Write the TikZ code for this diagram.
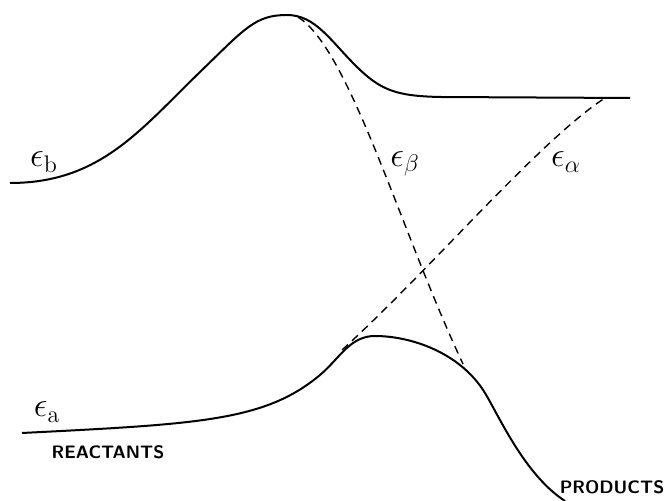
\documentclass[tikz,border=0pt]{standalone}
\usepackage{amsmath,amssymb}
\usepackage{xcolor}
\usetikzlibrary{positioning,calc}
\tikzset{
  level/.style={line width=1pt,line join=round},
  corr/.style={dash pattern=on 4pt off 2.8pt,line width=0.7pt},
  orblabel/.style={font=\LARGE,inner sep=1pt},
  side/.style={font=\small\sffamily\bfseries,inner sep=1pt}
}
\begin{document}
\begin{tikzpicture}[x=0.5pt,y=-0.5pt]
      \useasboundingbox (0,0) rectangle (664,501);
      \coordinate (bstart) at (10,183);
      \coordinate (btop) at (287,15);
      \coordinate (bend) at (630,98);
      \coordinate (astart) at (22,433);
      \coordinate (atop) at (375,336);
      \coordinate (aend) at (565,501);
      \draw[level] (bstart) .. controls (100,183) and (140,130) .. (200,72)
        .. controls (245,28.5) and (255,15) .. (btop)
        .. controls (315,15) and (330,40) .. (355,65)
        .. controls (380,90) and (395,96) .. (440,97) -- (bend);
      \draw[level] (astart) .. controls (200,424) and (265,421) .. (320,375)
        .. controls (340,358) and (350,336) .. (atop)
        .. controls (410,336) and (460,352) .. (485,393)
        .. controls (500,418) and (525,475) .. (aend);
      \draw[corr] (298,17) .. controls (350,50) and (400,230) .. (463,364);
      \draw[corr] (342,350) .. controls (430,270) and (540,140) .. (605,98);
      \node[orblabel] (eb) at (44,162) {$\epsilon_{\mathrm{b}}$};
      \node[orblabel] (ebeta) at (405,164) {$\epsilon_{\beta}$};
      \node[orblabel] (ealpha) at (566,162) {$\epsilon_{\alpha}$};
      \node[orblabel] (ea) at (47,412) {$\epsilon_{\mathrm{a}}$};
      \node[side] (reac) at (108,452) {REACTANTS};
      \node[side] (prod) at (612,487) {PRODUCTS};
    \end{tikzpicture}
\end{document}
